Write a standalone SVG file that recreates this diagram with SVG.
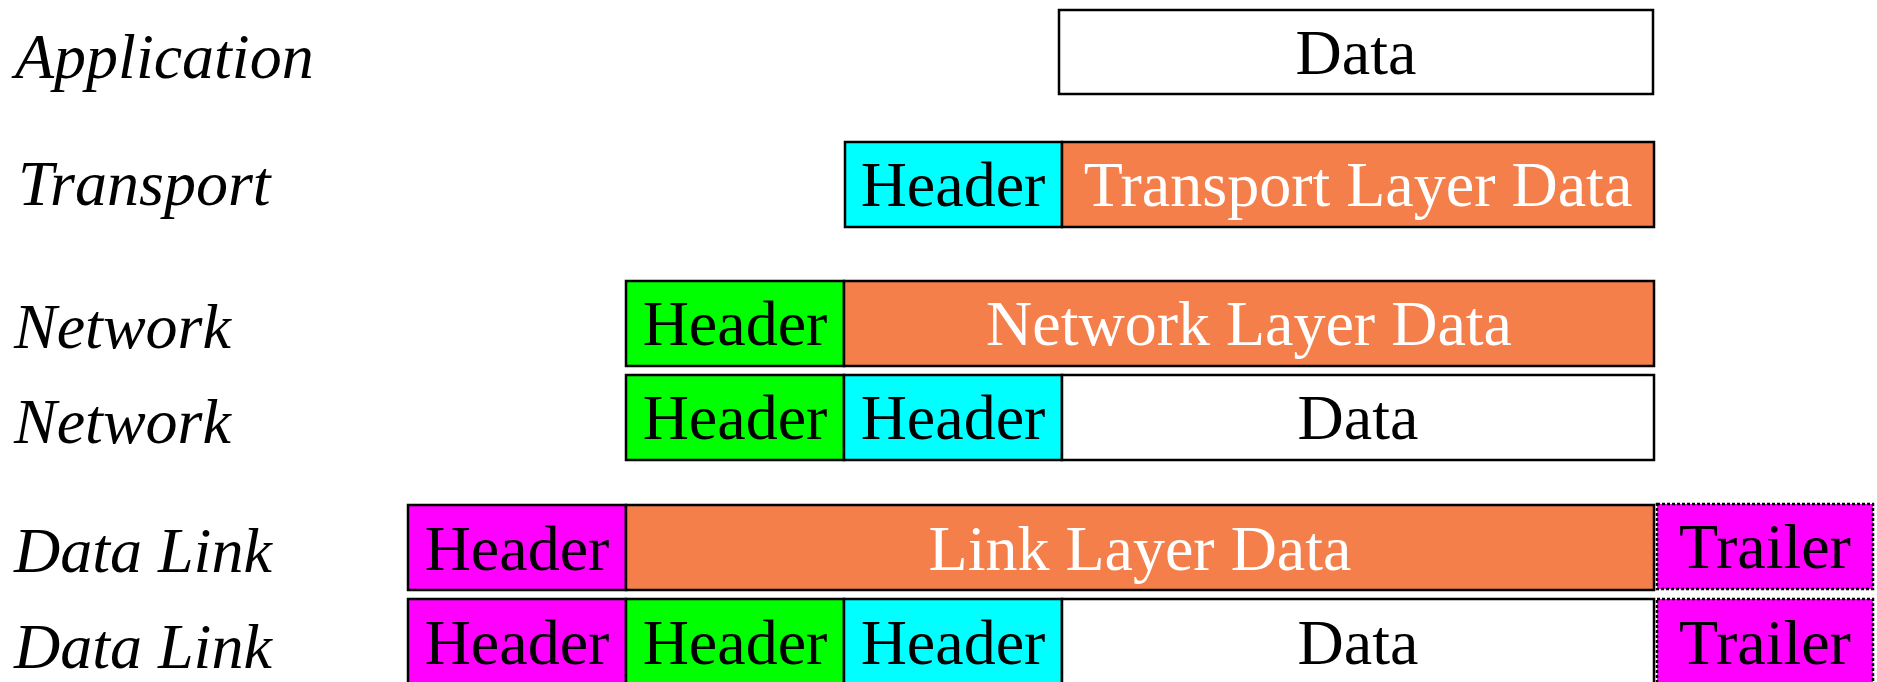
<svg xmlns="http://www.w3.org/2000/svg" width="1877" height="682" viewBox="0 0 1877 682">
<style>
.b{stroke:#000;stroke-width:2.5}
.t{stroke:#000;stroke-width:2.5;stroke-dasharray:3 2}
.w{fill:#fff}.o{fill:#F47F4B}.c{fill:#00FFFF}.g{fill:#00FF00}.m{fill:#FF00FF}
text{font-family:"Liberation Serif","Times New Roman",serif;font-size:64px}
.bt{text-anchor:middle;fill:#000}
.wt{text-anchor:middle;fill:#fff}
.lb{font-style:italic;fill:#000}
</style>
<rect width="1877" height="682" fill="#fff"/>
<g id="labels">
<text class="lb" x="15" y="78">Application</text>
<text class="lb" x="18" y="205">Transport</text>
<text class="lb" x="14" y="348">Network</text>
<text class="lb" x="14" y="443">Network</text>
<text class="lb" x="14" y="572">Data Link</text>
<text class="lb" x="14" y="668">Data Link</text>
</g>
<g id="app">
<rect class="b w" x="1059" y="10" width="594" height="84"/>
<text class="bt" x="1356" y="74">Data</text>
</g>
<g id="transport">
<rect class="b c" x="845" y="142" width="217" height="85"/>
<rect class="b o" x="1062" y="142" width="592" height="85"/>
<text class="bt" x="953" y="206">Header</text>
<text class="wt" x="1358" y="206">Transport Layer Data</text>
</g>
<g id="network1">
<rect class="b g" x="626" y="281" width="218" height="85"/>
<rect class="b o" x="844" y="281" width="810" height="85"/>
<text class="bt" x="735" y="345">Header</text>
<text class="wt" x="1249" y="345">Network Layer Data</text>
</g>
<g id="network2">
<rect class="b g" x="626" y="375" width="218" height="85"/>
<rect class="b c" x="844" y="375" width="218" height="85"/>
<rect class="b w" x="1062" y="375" width="592" height="85"/>
<text class="bt" x="735" y="439">Header</text>
<text class="bt" x="953" y="439">Header</text>
<text class="bt" x="1358" y="439">Data</text>
</g>
<g id="datalink1">
<rect class="b m" x="408" y="505" width="218" height="85"/>
<rect class="b o" x="626" y="505" width="1028" height="85"/>
<rect class="t m" x="1657" y="504" width="216" height="85"/>
<text class="bt" x="517" y="570">Header</text>
<text class="wt" x="1140" y="570">Link Layer Data</text>
<text class="bt" x="1765" y="568">Trailer</text>
</g>
<g id="datalink2">
<rect class="b m" x="408" y="599" width="218" height="86"/>
<rect class="b g" x="626" y="599" width="218" height="86"/>
<rect class="b c" x="844" y="599" width="218" height="86"/>
<rect class="b w" x="1062" y="599" width="592" height="86"/>
<rect class="t m" x="1657" y="599" width="216" height="86"/>
<text class="bt" x="517" y="664">Header</text>
<text class="bt" x="735" y="664">Header</text>
<text class="bt" x="953" y="664">Header</text>
<text class="bt" x="1358" y="664">Data</text>
<text class="bt" x="1765" y="664">Trailer</text>
</g>
<g id="connectors"/>
</svg>
